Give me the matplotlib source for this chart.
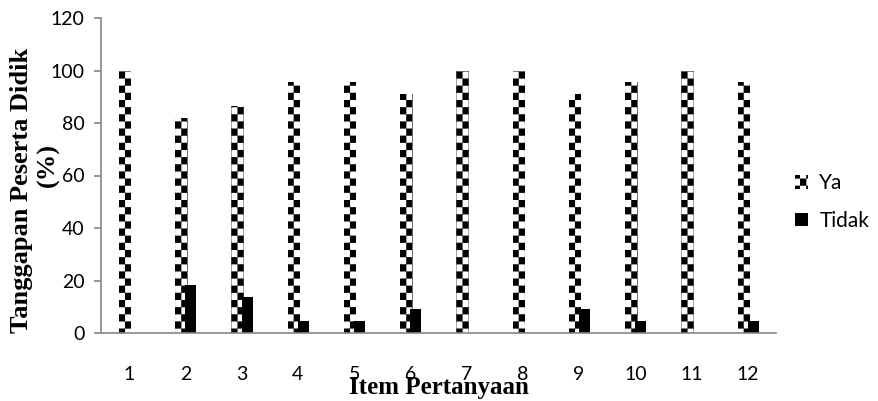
import numpy as np
import matplotlib
matplotlib.use("Agg")
import matplotlib.pyplot as plt
from matplotlib import hatch as mhatch
from matplotlib.path import Path

# data (22 respondents)
items = ['1', '2', '3', '4', '5', '6', '7', '8', '9', '10', '11', '12']
ya = [100, 81.8, 86.4, 95.5, 95.5, 90.9, 100, 100, 90.9, 95.5, 100, 95.5]
tidak = [0, 18.2, 13.6, 4.5, 4.5, 9.1, 0, 0, 9.1, 4.5, 0, 4.5]


# checkerboard hatch like the Excel pattern fill
class CheckerHatch(mhatch.HatchPatternBase):
    nx, ny = 16, 14

    def __init__(self, hatch, density):
        self.on = '+' in hatch
        self.num_vertices = (self.nx * self.ny // 2) * 5 if self.on else 0

    def set_vertices_and_codes(self, vertices, codes):
        sx, sy = 1.0 / self.nx, 1.0 / self.ny
        k = 0
        for i in range(self.nx):
            for j in range(self.ny):
                if (i + j) % 2:
                    continue
                x0, y0 = i * sx, j * sy
                vertices[k:k + 5] = [[x0, y0], [x0 + sx, y0], [x0 + sx, y0 + sy],
                                     [x0, y0 + sy], [x0, y0]]
                codes[k:k + 5] = [Path.MOVETO, Path.LINETO, Path.LINETO,
                                  Path.LINETO, Path.CLOSEPOLY]
                k += 5


mhatch._hatch_types = [CheckerHatch]
plt.rcParams['hatch.linewidth'] = 0.1

tick_font = ['Lato', 'DejaVu Sans']
serif = ['Liberation Serif', 'DejaVu Serif']

fig = plt.figure(figsize=(8.79, 4.01), dpi=100)
ax = fig.add_axes([101 / 879, 68 / 401, 675 / 879, 315 / 401])

x = np.arange(1, len(items) + 1)
ax.bar(x - 0.0733, ya, 0.2222, color='white', edgecolor='black', linewidth=0,
       hatch='+', label='Ya')
ax.bar(x + 0.0978, tidak, 0.1956, color='black', edgecolor='black', linewidth=0,
       label='Tidak')

ax.set_xlim(0.5, 12.5)
ax.set_ylim(0, 120)
ax.set_yticks(range(0, 121, 20))
ax.set_xticks(x)
ax.set_xticklabels(items)

for s in ['top', 'right']:
    ax.spines[s].set_visible(False)
for s in ['left', 'bottom']:
    ax.spines[s].set_color('#868686')
    ax.spines[s].set_linewidth(1.2)

ax.tick_params(axis='y', length=5, color='#868686', width=1.2, pad=7)
ax.tick_params(axis='x', length=0, pad=24)
for lab in ax.get_xticklabels() + ax.get_yticklabels():
    lab.set_family(tick_font)
    lab.set_fontsize(14)

# y label: two lines placed like in the original
fig.text(22 / 879, 1 - 190 / 401, 'Tanggapan Peserta Didik', rotation=90,
         ha='center', va='center', family=serif, fontsize=19, fontweight='bold')
fig.text(48 / 879, 1 - 165 / 401, '(%)', rotation=90,
         ha='center', va='center', family=serif, fontsize=19, fontweight='bold')

ax.set_xlabel('Item Pertanyaan', family=serif, fontsize=18, fontweight='bold')
ax.xaxis.set_label_coords(0.5, -0.135)

leg = fig.legend(loc='center left', bbox_to_anchor=(795 / 879, 1 - 202 / 401),
                 frameon=False, borderpad=0, borderaxespad=0,
                 handlelength=0.62, handleheight=0.62, labelspacing=0.85,
                 handletextpad=0.55, prop={'family': tick_font, 'size': 15})

fig.savefig('out.png', dpi=100)
